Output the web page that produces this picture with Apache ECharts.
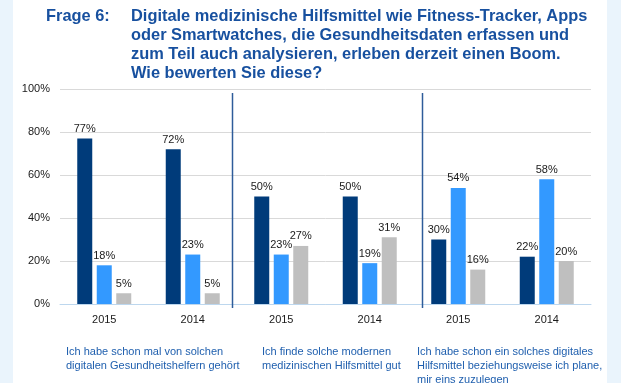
<!DOCTYPE html>
<html>
<head>
<meta charset="utf-8">
<script src="https://cdn.jsdelivr.net/npm/echarts@6/dist/echarts.min.js"></script>
<style>
html,body{margin:0;padding:0;background:#EAF4FC;}
#chart{width:621px;height:383px;}
</style>
</head>
<body>
<div id="chart"></div>
<script>
const categories = ['2015', '2014', '2015', '2014', '2015', '2014'];
const darkValues = [77, 72, 50, 50, 30, 22];
const lightValues = [18, 23, 23, 19, 54, 58];
const grayValues = [5, 5, 27, 31, 16, 20];
const yTicks = [0, 20, 40, 60, 80, 100];
const groupCaptions = [
  'Ich habe schon mal von solchen\ndigitalen Gesundheitshelfern gehört',
  'Ich finde solche modernen\nmedizinischen Hilfsmittel gut',
  'Ich habe schon ein solches digitales\nHilfsmittel beziehungsweise ich plane,\nmir eins zuzulegen'
];
const titleLabel = 'Frage 6:';
const titleText = 'Digitale medizinische Hilfsmittel wie Fitness-Tracker, Apps\noder Smartwatches, die Gesundheitsdaten erfassen und\nzum Teil auch analysieren, erleben derzeit einen Boom.\nWie bewerten Sie diese?';

const FONT = 'Liberation Sans, Arial, sans-serif';
const chart = echarts.init(document.getElementById('chart'), null, {renderer: 'canvas'});

const labelCfg = {
  show: true, position: 'top', distance: 4,
  formatter: '{c}%', color: '#1a1a1a', fontSize: 11, fontFamily: FONT
};
function barSeries(name, data, color) {
  return {
    name, type: 'bar', data, barWidth: 15, barGap: '30%',
    itemStyle: {color}, label: labelCfg, silent: true
  };
}

const captionX = [66, 262, 417];
const graphics = [
  {type: 'rect', left: 13, top: 0, shape: {width: 594, height: 383}, style: {fill: '#ffffff'}, z: -10},
  {type: 'line', shape: {x1: 232.5, y1: 93, x2: 232.5, y2: 308}, style: {stroke: '#2E5C9A', lineWidth: 1.5}, z: 10},
  {type: 'line', shape: {x1: 422.5, y1: 93, x2: 422.5, y2: 308}, style: {stroke: '#2E5C9A', lineWidth: 1.5}, z: 10}
];
groupCaptions.forEach((t, i) => {
  graphics.push({
    type: 'text', left: captionX[i], top: 345,
    style: {text: t, fill: '#1F5FAE', font: '11px ' + FONT, lineHeight: 14}
  });
});

chart.setOption({
  backgroundColor: 'transparent',
  animation: false,
  title: [
    {text: titleLabel, left: 46, top: 7, padding: 0,
     textStyle: {color: '#17509F', fontSize: 16.4, fontWeight: 'bold', fontFamily: FONT, lineHeight: 19}},
    {text: titleText, left: 131, top: 7, padding: 0,
     textStyle: {color: '#17509F', fontSize: 16.4, fontWeight: 'bold', fontFamily: FONT, lineHeight: 19}}
  ],
  grid: {left: 60, right: 30, top: 89, bottom: 79, containLabel: false},
  xAxis: {
    type: 'category', data: categories,
    axisLine: {show: true, lineStyle: {color: '#BDD7EE', width: 1}},
    axisTick: {show: false},
    axisLabel: {color: '#1a1a1a', fontSize: 11, fontFamily: FONT, margin: 10}
  },
  yAxis: {
    type: 'value', min: yTicks[0], max: yTicks[yTicks.length - 1], interval: 20,
    axisLine: {show: false}, axisTick: {show: false},
    axisLabel: {formatter: '{value}%', color: '#1a1a1a', fontSize: 11, fontFamily: FONT, margin: 10},
    splitLine: {lineStyle: {color: '#D9D9D9', width: 1}}
  },
  series: [
    barSeries('dark', darkValues, '#003B7A'),
    barSeries('light', lightValues, '#3399FF'),
    barSeries('gray', grayValues, '#BFBFBF')
  ],
  graphic: graphics
});
</script>
</body>
</html>
